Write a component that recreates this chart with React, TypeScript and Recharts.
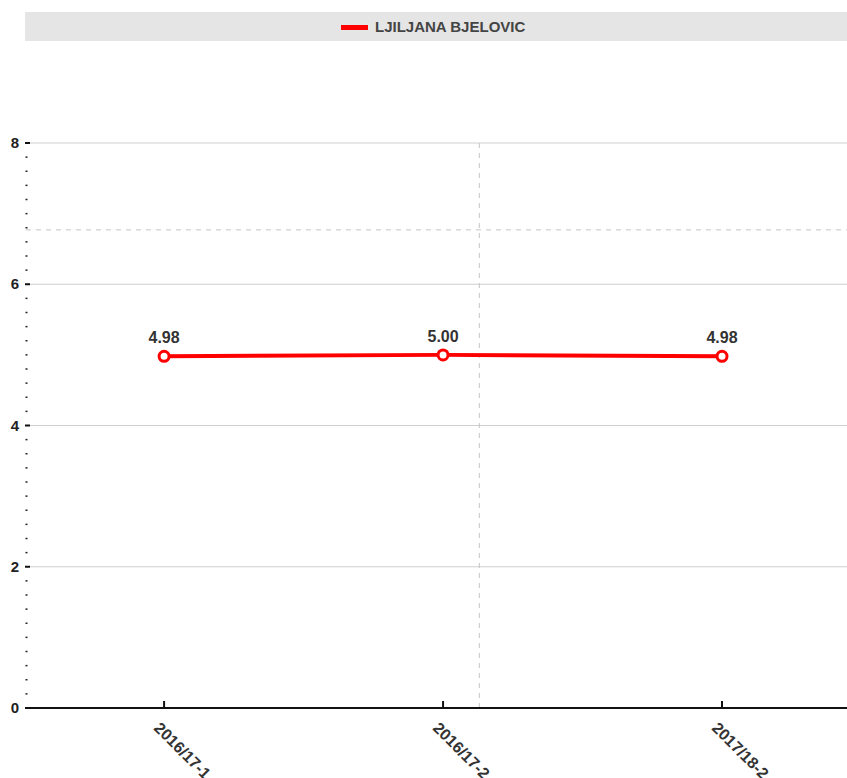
import { LineChart, Line, XAxis, YAxis, ReferenceLine, LabelList } from 'recharts';

const categories = ['2016/17-1', '2016/17-2', '2017/18-2'];
const grades = [4.98, 5.0, 4.98];
const seriesName = 'LJILJANA BJELOVIC';
const majorTicks = [0, 2, 4, 6, 8];
const minorTicks = [
  0, 0.2, 0.4, 0.6, 0.8, 1, 1.2, 1.4, 1.6, 1.8, 2, 2.2, 2.4, 2.6, 2.8, 3, 3.2, 3.4, 3.6, 3.8, 4,
  4.2, 4.4, 4.6, 4.8, 5, 5.2, 5.4, 5.6, 5.8, 6, 6.2, 6.4, 6.6, 6.8, 7, 7.2, 7.4, 7.6, 7.8, 8,
];
const averageLevel = 6.77;
const markerPosition = 1.13;

const data = categories.map((name, i) => ({ idx: i, name, grade: grades[i] }));

const FONT = '"Liberation Sans", Arial, sans-serif';

function YTick(props: any) {
  const { x, y, payload } = props;
  const v = Math.round(payload.value * 10) / 10;
  const isMajor = majorTicks.includes(v);
  if (!isMajor) {
    return <line x1={x - 0.5} y1={y} x2={x + 1.5} y2={y} stroke="#222" strokeWidth={1.5} />;
  }
  return (
    <g>
      <line x1={x - 1} y1={y} x2={x + 4} y2={y} stroke="#111" strokeWidth={2} />
      <text x={x - 7} y={y} dy={5} textAnchor="end" fontFamily={FONT} fontWeight="bold" fontSize={15} fill="#222">
        {v}
      </text>
    </g>
  );
}

function XTick(props: any) {
  const { x, y, payload } = props;
  return (
    <g>
      <line x1={x} y1={y - 7} x2={x} y2={y} stroke="#111" strokeWidth={2} />
      <g transform={`translate(${x - 11},${y + 21}) rotate(45)`}>
        <text x={0} y={0} textAnchor="start" fontFamily={FONT} fontWeight="bold" fontSize={16} fill="#333">
          {categories[payload.value]}
        </text>
      </g>
    </g>
  );
}

export default function App() {
  return (
    <div style={{ position: 'absolute', left: 0, top: 0, width: 847, height: 778, background: '#fff', overflow: 'hidden' }}>
      <div
        style={{
          position: 'absolute',
          left: 25,
          top: 12,
          width: 822,
          height: 29,
          background: '#e5e5e5',
          fontFamily: FONT,
          fontWeight: 'bold',
          fontSize: 15,
          color: '#444',
        }}
      >
        <div style={{ position: 'absolute', left: 316, top: 13, width: 27, height: 5, background: '#ff0000' }} />
        <div style={{ position: 'absolute', left: 350, top: 6, lineHeight: '17px', whiteSpace: 'nowrap' }}>{seriesName}</div>
      </div>
      <LineChart width={847} height={778} data={data} margin={{ top: 143, right: 0, bottom: 0, left: 0 }}>
        {majorTicks.slice(1).map((t) => (
          <ReferenceLine key={t} y={t} stroke="#cfcfcf" strokeWidth={1} ifOverflow="visible" />
        ))}
        <ReferenceLine y={averageLevel} stroke="#c4c4c4" strokeDasharray="5 5" strokeWidth={1} />
        <ReferenceLine x={markerPosition} stroke="#c4c4c4" strokeDasharray="5 5" strokeWidth={1} />
        <XAxis
          dataKey="idx"
          type="number"
          domain={[-0.495, 2.448]}
          allowDataOverflow
          ticks={[0, 1, 2]}
          interval={0}
          height={70}
          axisLine={{ stroke: '#111', strokeWidth: 2 }}
          tickLine={false}
          tickSize={0}
          tickMargin={0}
          tick={<XTick />}
        />
        <YAxis
          type="number"
          domain={[0, 8]}
          ticks={minorTicks}
          interval={0}
          width={26}
          axisLine={false}
          tickLine={false}
          tickSize={0}
          tickMargin={0}
          tick={<YTick />}
        />
        <Line
          type="linear"
          dataKey="grade"
          name={seriesName}
          stroke="#ff0000"
          strokeWidth={4}
          dot={{ r: 5, stroke: '#ff0000', strokeWidth: 3, fill: '#fff' }}
          activeDot={false}
          isAnimationActive={false}
        >
          <LabelList
            dataKey="grade"
            position="top"
            offset={13}
            formatter={(v: any) => Number(v).toFixed(2)}
            style={{ fontFamily: FONT, fontWeight: 'bold', fontSize: 16, fill: '#333' }}
          />
        </Line>
      </LineChart>
    </div>
  );
}
